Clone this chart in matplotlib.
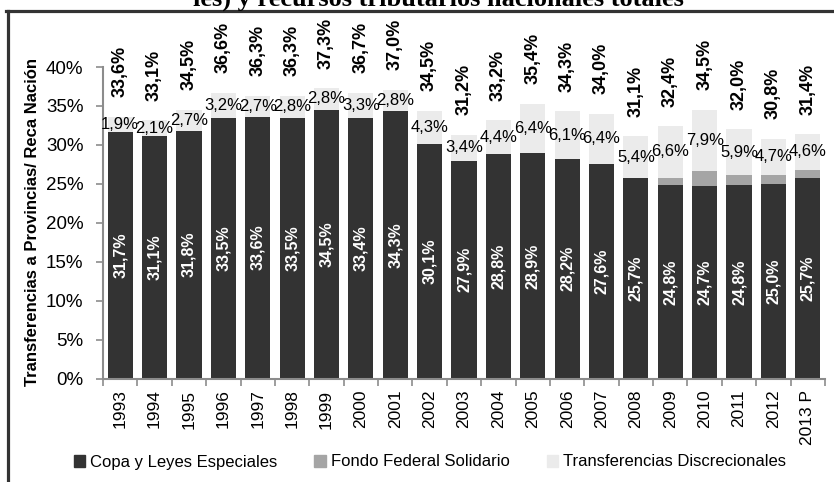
import numpy as np
import matplotlib.pyplot as plt
from matplotlib.lines import Line2D
from matplotlib.patches import Patch

# Datos (% de la recaudacion nacional)
anios = ['1993', '1994', '1995', '1996', '1997', '1998', '1999', '2000', '2001', '2002',
         '2003', '2004', '2005', '2006', '2007', '2008', '2009', '2010', '2011', '2012', '2013 P']
copa = [31.7, 31.1, 31.8, 33.5, 33.6, 33.5, 34.5, 33.4, 34.3, 30.1,
        27.9, 28.8, 28.9, 28.2, 27.6, 25.7, 24.8, 24.7, 24.8, 25.0, 25.7]
fondo_solidario = [0, 0, 0, 0, 0, 0, 0, 0, 0, 0,
                   0, 0, 0, 0, 0, 0, 1.0, 1.9, 1.3, 1.1, 1.1]
discrecionales = [1.9, 2.1, 2.7, 3.2, 2.7, 2.8, 2.8, 3.3, 2.8, 4.3,
                  3.4, 4.4, 6.4, 6.1, 6.4, 5.4, 6.6, 7.9, 5.9, 4.7, 4.6]
totales = [33.6, 33.1, 34.5, 36.6, 36.3, 36.3, 37.3, 36.7, 37.0, 34.5,
           31.2, 33.2, 35.4, 34.3, 34.0, 31.1, 32.4, 34.5, 32.0, 30.8, 31.4]
series = ['Copa y Leyes Especiales', 'Fondo Federal Solidario', 'Transferencias Discrecionales']
titulo = 'les) y recursos tributarios nacionales totales'

C_OSCURO = '#333333'
C_MEDIO = '#a5a5a5'
C_CLARO = '#ebebeb'
C_EJE = '#8c8c8c'

plt.rcParams['font.family'] = ['Liberation Sans', 'DejaVu Sans']


def pct(v):
    return f'{v:.1f}%'.replace('.', ',')


fig = plt.figure(figsize=(8.34, 4.82), dpi=100)
ax = fig.add_axes([103 / 834, 1 - 378.5 / 482, (825 - 103) / 834, (378.5 - 67) / 482])

x = np.arange(len(anios))
ancho = 0.73
base2 = np.array(copa)
base3 = base2 + np.array(fondo_solidario)

b1 = ax.bar(x, copa, ancho, color=C_OSCURO, label=series[0])
b2 = ax.bar(x, fondo_solidario, ancho, bottom=base2, color=C_MEDIO, label=series[1])
b3 = ax.bar(x, discrecionales, ancho, bottom=base3, color=C_CLARO, label=series[2])

ax.bar_label(b1, labels=[pct(v) for v in copa], label_type='center', rotation=90,
             color='white', fontsize=11.5, fontweight='bold')
ax.bar_label(b3, labels=[pct(v) for v in discrecionales], label_type='center',
             fontsize=12, color='black')

# etiqueta del total encima de cada barra
tope = base3 + np.array(discrecionales)
for xi, yi, t in zip(x, tope, totales):
    ax.annotate(pct(t), (xi, yi), xytext=(0, 14), textcoords='offset points',
                rotation=90, ha='center', va='bottom', fontsize=13, fontweight='bold',
                annotation_clip=False)

ax.set_xlim(-0.5, len(anios) - 0.5)
ax.set_ylim(0, 40)
ax.set_yticks(np.arange(0, 41, 5))
ax.set_yticklabels([f'{v}%' for v in range(0, 41, 5)])
ax.tick_params(axis='y', length=5, width=1.2, color=C_EJE, labelsize=13.5, pad=9)

ax.set_xticks(np.arange(-0.5, len(anios), 1))
ax.set_xticklabels([])
ax.set_xticks(x, minor=True)
ax.set_xticklabels(anios, minor=True, rotation=90, fontsize=12.5)
ax.tick_params(axis='x', which='major', length=5, width=1.2, color=C_EJE)
ax.tick_params(axis='x', which='minor', length=0, pad=8)

for s in ['top', 'right']:
    ax.spines[s].set_visible(False)
for s in ['left', 'bottom']:
    ax.spines[s].set_color(C_EJE)
    ax.spines[s].set_linewidth(1.5)

fig.text(33 / 834, 1 - 222 / 482, 'Transferencias a Provincias/ Reca Nación', rotation=90,
         ha='center', va='center', fontsize=12, fontweight='bold')

handles = [Patch(color=C_OSCURO), Patch(color=C_MEDIO), Patch(color=C_CLARO)]
fig.legend(handles, series, loc='center', bbox_to_anchor=(430 / 834, 1 - 462 / 482), ncol=3,
           frameon=False, handlelength=0.7, handleheight=0.7, handletextpad=0.3,
           columnspacing=2.2, prop={'size': 12})

# titulo cortado y marco de la captura
fig.text(438 / 834, 1 - 6 / 482, titulo, ha='center', va='baseline', fontsize=19,
         fontweight='bold', family='Liberation Serif')
fig.add_artist(Line2D([7.5 / 834, 7.5 / 834], [0, 1 - 11 / 482], transform=fig.transFigure,
                      color='#333333', lw=2.3))
fig.add_artist(Line2D([6 / 834, 1], [1 - 11 / 482, 1 - 11 / 482], transform=fig.transFigure,
                      color='#333333', lw=2.3))

fig.savefig('out.png', dpi=100)
